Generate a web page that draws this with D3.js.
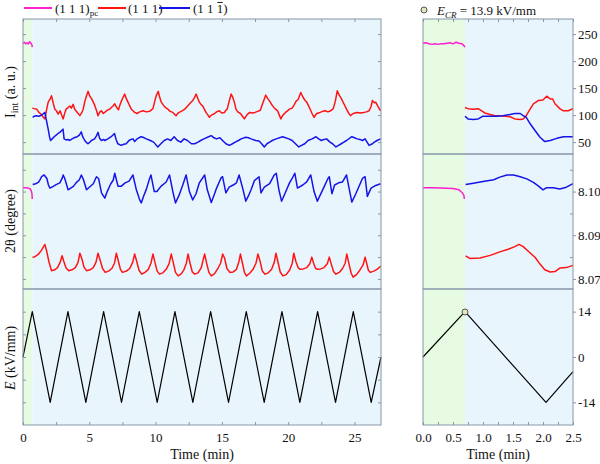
<!DOCTYPE html>
<html><head><meta charset="utf-8">
<script src="https://cdn.jsdelivr.net/npm/d3@7"></script>
<style>
body{margin:0;background:#fff}
svg{display:block}
svg text{font-family:"Liberation Serif","Tinos","Times New Roman","Nimbus Roman","DejaVu Serif",serif;fill:#111}
</style>
</head><body><svg id="c" width="600" height="464"></svg>
<script>
// ---------------- data ----------------
const legendLabels = ["(1 1 1)", "(1 1 1)", "(1 1 1)"];
const ecrLabel = "13.9 kV/mm";
const ecrValue = 13.9, ecrTime = 0.7;
const leftTimeTicks = [0, 5, 10, 15, 20, 25];
const leftTimeMinor = [2.5, 7.5, 12.5, 17.5, 22.5];
const rightTimeTicks = [0.0, 0.5, 1.0, 1.5, 2.0, 2.5];
const rightTimeMinor = [0.25, 0.75, 1.25, 1.75, 2.25];
const intTicks = [250, 200, 150, 100, 50];
const thetaTicks = [8.10, 8.09, 8.08];
const thetaTickLabels = ["8.10", "8.09", "8.07"];
const thetaMinor = [8.105, 8.095, 8.085];
const eTicks = [14, 0, -14];
const eMinor = [7, -7];
const pcEnd = 0.7; // end of pseudo-cubic (green) region, min

// Intensity, left (0-27 min)
const intPcLeft = [[0,233],[0.1,235],[0.2,232],[0.3,234],[0.4,232],[0.5,236],[0.6,233],[0.66,231],[0.7,226]];
const int111Left = [[0.7,113],[0.85,112],[1.03,111],[1.2,105],[1.35,102],[1.5,97],[1.65,93],[1.78,110],[1.9,124],[2.05,130],[2.15,136],[2.28,122],[2.4,111],[2.52,108],[2.65,102],[2.8,108],[2.9,101],[3.03,93],[3.15,104],[3.25,111],[3.4,114],[3.53,117],[3.65,113],[3.78,120],[3.9,111],[4.1,105],[4.29,99],[4.42,104],[4.54,111],[4.66,125],[4.79,136],[4.91,144],[5.04,135],[5.16,131],[5.3,124],[5.41,118],[5.55,108],[5.66,99],[5.8,106],[5.91,108],[6.05,103],[6.16,105],[6.35,109],[6.54,111],[6.66,114],[6.79,117],[6.92,121],[7.04,115],[7.2,110],[7.3,118],[7.42,126],[7.55,133],[7.67,139],[7.8,130],[7.92,124],[8.05,117],[8.17,111],[8.3,108],[8.42,105],[8.6,103],[8.8,106],[9.05,108],[9.3,106],[9.55,107],[9.8,112],[9.92,124],[10.05,136],[10.2,144],[10.32,132],[10.43,124],[10.6,118],[10.75,114],[10.93,111],[11.1,107],[11.3,105],[11.45,101],[11.55,99],[11.7,104],[11.85,106],[12.0,108],[12.2,111],[12.45,118],[12.6,122],[12.8,127],[12.94,133],[13.06,139],[13.2,130],[13.3,124],[13.45,119],[13.55,117],[13.8,105],[13.95,100],[14.06,96],[14.2,100],[14.4,102],[14.6,106],[14.8,108],[15.0,104],[15.2,105],[15.3,109],[15.4,111],[15.55,126],[15.7,139],[15.82,133],[15.94,124],[16.06,111],[16.2,106],[16.4,103],[16.55,98],[16.7,93],[16.9,101],[17.1,105],[17.3,104],[17.5,105],[17.7,107],[17.9,109],[18.07,121],[18.2,130],[18.3,137],[18.45,131],[18.6,126],[18.8,118],[19.0,112],[19.2,108],[19.33,100],[19.45,93],[19.6,100],[19.8,105],[19.95,108],[20.1,111],[20.3,113],[20.45,119],[20.6,126],[20.75,129],[20.95,142],[21.1,134],[21.25,128],[21.4,124],[21.6,114],[21.8,103],[21.95,96],[22.15,103],[22.4,105],[22.6,107],[22.8,108],[23.0,106],[23.2,108],[23.4,112],[23.55,125],[23.7,145],[23.85,137],[24.0,131],[24.2,121],[24.4,111],[24.55,104],[24.7,99],[24.9,103],[25.2,105],[25.45,104],[25.7,105],[25.9,106],[26.1,108],[26.25,116],[26.35,127],[26.5,123],[26.6,124],[26.8,115],[26.97,108]];
const int11bLeft = [[0.73,96],[0.85,98],[1.0,99],[1.2,98],[1.4,100],[1.55,103],[1.65,105],[1.75,92],[1.9,74],[2.0,60],[2.08,53],[2.2,56],[2.35,60],[2.5,63],[2.65,66],[2.78,68],[2.9,71],[3.02,74],[3.1,56],[3.25,54],[3.4,55],[3.53,53],[3.7,56],[3.85,58],[4.09,60],[4.25,63],[4.4,69],[4.5,60],[4.66,53],[4.8,49],[4.9,47],[5.05,50],[5.16,53],[5.4,56],[5.55,62],[5.66,68],[5.78,57],[5.91,53],[6.1,55],[6.16,53],[6.4,56],[6.65,60],[6.9,66],[7.02,55],[7.15,47],[7.4,44],[7.6,46],[7.78,47],[8.0,53],[8.15,55],[8.3,56],[8.42,51],[8.6,56],[8.9,60],[9.05,59],[9.3,56],[9.6,53],[9.85,50],[10.17,41],[10.4,47],[10.65,53],[10.9,56],[11.15,53],[11.4,60],[11.65,53],[11.9,50],[12.15,56],[12.4,53],[12.7,47],[12.95,47],[13.2,50],[13.4,53],[13.65,56],[14.0,60],[14.2,62],[14.4,58],[14.6,56],[14.85,58],[15.05,53],[15.3,47],[15.56,44],[15.8,47],[16.0,50],[16.25,53],[16.45,56],[16.8,59],[17.0,58],[17.2,56],[17.55,53],[17.8,52],[18.0,47],[18.2,41],[18.4,47],[18.6,50],[18.8,53],[19.1,56],[19.57,60],[19.8,58],[20.05,56],[20.3,53],[20.55,47],[20.8,41],[21.0,44],[21.25,47],[21.5,53],[21.8,56],[22.1,60],[22.3,56],[22.5,53],[22.7,55],[22.9,56],[23.15,50],[23.35,47],[23.6,41],[23.8,44],[24.0,47],[24.2,50],[24.4,53],[24.8,60],[25.0,58],[25.2,56],[25.4,55],[25.6,53],[25.8,56],[26.1,44],[26.35,47],[26.5,50],[26.7,53],[26.97,56]];

// 2theta, left
const thetaPcLeft = [[0,8.1009],[0.2,8.1009],[0.4,8.1008],[0.55,8.1006],[0.62,8.1002],[0.67,8.0996],[0.7,8.0983]];
const theta11bLeft = [[0.73,8.1016],[0.95,8.1018],[1.16,8.1021],[1.3,8.1028],[1.4,8.1034],[1.6,8.1038],[1.8,8.1030],[1.92,8.1015],[2.03,8.1008],[2.28,8.1012],[2.5,8.1016],[2.78,8.1020],[2.95,8.1030],[3.03,8.1038],[3.15,8.1030],[3.4,8.1004],[3.6,8.1008],[3.8,8.1012],[4.0,8.1020],[4.25,8.1027],[4.4,8.1038],[4.55,8.1028],[4.79,8.1004],[5.0,8.1010],[5.3,8.1018],[5.54,8.1034],[5.7,8.1030],[5.92,8.0997],[6.17,8.0985],[6.35,8.1000],[6.62,8.1018],[6.8,8.1026],[6.92,8.1042],[7.17,8.1012],[7.4,8.1012],[7.7,8.1020],[8.0,8.1024],[8.29,8.1038],[8.55,8.1004],[8.8,8.0981],[8.92,8.0974],[9.1,8.0990],[9.3,8.1005],[9.55,8.1030],[9.65,8.1038],[9.9,8.1000],[10.1,8.1000],[10.4,8.1012],[10.8,8.1022],[11.05,8.1038],[11.3,8.1000],[11.5,8.0974],[11.75,8.0990],[12.05,8.1015],[12.3,8.1038],[12.55,8.1000],[12.8,8.0981],[13.05,8.0995],[13.3,8.1020],[13.7,8.1038],[13.9,8.1004],[14.2,8.0975],[14.45,8.0995],[14.6,8.1008],[14.8,8.1022],[14.95,8.1032],[15.05,8.1034],[15.3,8.0997],[15.55,8.1010],[15.85,8.1015],[16.1,8.1020],[16.3,8.1038],[16.6,8.1004],[16.8,8.0978],[17.0,8.0990],[17.2,8.1004],[17.45,8.1025],[17.8,8.1034],[17.95,8.0997],[18.2,8.1010],[18.6,8.1018],[18.95,8.1038],[19.1,8.1042],[19.3,8.1004],[19.5,8.0978],[19.75,8.0995],[20.1,8.1020],[20.3,8.1030],[20.5,8.1042],[20.7,8.1008],[21.1,8.1015],[21.4,8.1022],[21.7,8.1038],[21.95,8.1000],[22.2,8.0978],[22.6,8.1004],[23.0,8.1030],[23.1,8.1034],[23.3,8.0995],[23.5,8.1015],[23.8,8.1020],[24.1,8.1022],[24.4,8.1038],[24.55,8.1014],[24.8,8.0976],[25.1,8.0995],[25.6,8.1030],[25.8,8.1034],[25.97,8.0989],[26.25,8.1008],[26.6,8.1014],[26.97,8.1018]];
const theta111Left = [[0.72,8.0849],[0.9,8.0851],[1.15,8.0856],[1.4,8.0866],[1.55,8.0874],[1.65,8.0879],[1.8,8.0862],[1.95,8.0840],[2.15,8.0819],[2.4,8.0821],[2.6,8.0826],[2.8,8.0838],[2.95,8.0853],[3.1,8.0838],[3.25,8.0825],[3.45,8.0819],[3.7,8.0821],[3.95,8.0826],[4.15,8.0838],[4.29,8.0859],[4.45,8.0845],[4.6,8.0827],[4.8,8.0819],[5.05,8.0821],[5.3,8.0826],[5.5,8.0838],[5.66,8.0859],[5.82,8.0843],[6.0,8.0824],[6.2,8.0815],[6.45,8.0818],[6.7,8.0824],[6.9,8.0836],[7.04,8.0859],[7.2,8.0840],[7.35,8.0822],[7.5,8.0815],[7.8,8.0818],[8.05,8.0824],[8.27,8.0838],[8.42,8.0857],[8.58,8.0840],[8.75,8.0820],[8.95,8.0811],[9.2,8.0815],[9.45,8.0822],[9.65,8.0836],[9.8,8.0857],[9.95,8.0838],[10.12,8.0818],[10.3,8.0811],[10.55,8.0814],[10.8,8.0822],[11.02,8.0835],[11.18,8.0857],[11.33,8.0838],[11.5,8.0815],[11.7,8.0807],[11.95,8.0812],[12.15,8.0822],[12.32,8.0836],[12.45,8.0857],[12.6,8.0836],[12.77,8.0816],[12.95,8.0811],[13.2,8.0814],[13.45,8.0826],[13.58,8.0843],[13.7,8.0857],[13.85,8.0836],[14.02,8.0815],[14.2,8.0807],[14.45,8.0812],[14.7,8.0824],[14.9,8.0836],[15.06,8.0857],[15.2,8.0848],[15.38,8.0824],[15.6,8.0815],[15.85,8.0816],[16.1,8.0822],[16.27,8.0838],[16.4,8.0857],[16.55,8.0836],[16.7,8.0815],[16.85,8.0807],[17.1,8.0813],[17.35,8.0822],[17.57,8.0836],[17.72,8.0857],[17.87,8.0842],[18.05,8.0818],[18.25,8.0811],[18.5,8.0814],[18.75,8.0822],[18.95,8.0838],[19.08,8.0859],[19.22,8.0840],[19.4,8.0816],[19.6,8.0807],[19.85,8.0810],[20.1,8.0820],[20.3,8.0835],[20.42,8.0859],[20.58,8.0840],[20.75,8.0826],[20.9,8.0822],[21.15,8.0823],[21.4,8.0826],[21.62,8.0834],[21.78,8.0850],[21.92,8.0836],[22.05,8.0825],[22.2,8.0822],[22.45,8.0823],[22.7,8.0826],[22.95,8.0835],[23.1,8.0850],[23.25,8.0834],[23.42,8.0817],[23.6,8.0811],[23.85,8.0815],[24.1,8.0824],[24.3,8.0836],[24.42,8.0857],[24.58,8.0835],[24.75,8.0813],[24.9,8.0804],[25.15,8.0810],[25.4,8.0820],[25.65,8.0832],[25.8,8.0850],[25.95,8.0832],[26.05,8.0820],[26.2,8.0815],[26.45,8.0818],[26.7,8.0822],[26.97,8.0829]];

// Electric field, left (vertices)
const eTimesLeft = [0, 0.7, 2.05, 3.39, 4.74, 6.08, 7.43, 8.77, 10.12, 11.46, 12.81, 14.15, 15.5, 16.84, 18.19, 19.53, 20.88, 22.22, 23.57, 24.91, 26.26, 27];
const eValsLeft  = [0, 14, -14, 14, -14, 14, -14, 14, -14, 14, -14, 14, -14, 14, -14, 14, -14, 14, -14, 14, -14, 0];

// Right panel (0-2.5 min)
const intPcRight = [[0,233],[0.05,234],[0.1,232],[0.15,231],[0.2,232],[0.25,231],[0.3,232],[0.35,232],[0.4,233],[0.45,234],[0.5,232],[0.55,235],[0.6,233],[0.65,232],[0.68,229],[0.7,226]];
const int111Right = [[0.7,114],[0.75,112],[0.84,111],[0.92,112],[0.98,108],[1.03,104],[1.12,101],[1.2,99],[1.28,99],[1.37,98],[1.45,97],[1.53,93],[1.62,92],[1.67,93],[1.72,99],[1.78,110],[1.84,121],[1.92,127],[2.0,128],[2.06,135],[2.12,130],[2.16,130],[2.2,121],[2.28,112],[2.34,108],[2.42,108],[2.5,112]];
const int11bRight = [[0.7,98],[0.75,93],[0.84,92],[0.92,93],[1.0,98],[1.1,98],[1.22,98],[1.33,99],[1.45,101],[1.53,103],[1.62,103],[1.67,99],[1.72,96],[1.78,85],[1.87,71],[1.95,59],[2.03,51],[2.12,53],[2.23,57],[2.34,60],[2.42,60],[2.5,60]];
const thetaPcRight = [[0,8.1009],[0.15,8.1009],[0.3,8.1008],[0.5,8.1007],[0.6,8.1004],[0.65,8.0998],[0.68,8.0992],[0.69,8.0983]];
const theta11bRight = [[0.71,8.1016],[0.84,8.1019],[1.0,8.1023],[1.18,8.1027],[1.28,8.1033],[1.4,8.1038],[1.51,8.1038],[1.62,8.1034],[1.73,8.1029],[1.84,8.1021],[1.92,8.1013],[2.0,8.1004],[2.06,8.1009],[2.17,8.1009],[2.28,8.1006],[2.39,8.1010],[2.5,8.1018]];
const theta111Right = [[0.71,8.0853],[0.78,8.0847],[0.95,8.0848],[1.12,8.0854],[1.28,8.0862],[1.42,8.0868],[1.53,8.0874],[1.6,8.0879],[1.67,8.0874],[1.75,8.0864],[1.87,8.0849],[1.95,8.0834],[2.03,8.0821],[2.12,8.0816],[2.2,8.0817],[2.28,8.0825],[2.39,8.0826],[2.5,8.0831]];
const eTimesRight = [0, 0.7, 2.05, 2.5];
const eValsRight  = [0, 14, -14, -4.5];

// ---------------- drawing ----------------
const C = {pc:"#ff1fd0", r:"#ff1414", b:"#1414e6", k:"#000", frame:"#8696aa", green:"#e6fbe2", blue:"#e9f5fd"};
const svg = d3.select("#c");
const xL = d3.scaleLinear().domain([0,27]).range([23,381]);
const xR = d3.scaleLinear().domain([0,2.5]).range([423,573]);
const yI = d3.scaleLinear().domain([28,278]).range([154,19]);
const yT = d3.scaleLinear().domain([8.0777,8.1086]).range([289,154]);
const yE = d3.scaleLinear().domain([-21,21]).range([425,289]);
const TOP = 19, BOT = 425;

function bg(x){
  svg.append("rect").attr("x",x(0)).attr("y",TOP).attr("width",x(pcEnd)-x(0)).attr("height",BOT-TOP).attr("fill",C.green);
  svg.append("rect").attr("x",x(pcEnd)).attr("y",TOP).attr("width",x.range()[1]-x(pcEnd)).attr("height",BOT-TOP).attr("fill",C.blue);
}
bg(xL); bg(xR);

function line(x,y,data,color,w){
  svg.append("path").datum(data).attr("fill","none").attr("stroke",color).attr("stroke-width",w||1.5)
    .attr("stroke-linejoin","round").attr("d",d3.line().x(d=>x(d[0])).y(d=>y(d[1])));
}
const zip = (a,b)=>a.map((t,i)=>[t,b[i]]);

// left
line(xL,yI,intPcLeft,C.pc); line(xL,yI,int111Left,C.r); line(xL,yI,int11bLeft,C.b);
line(xL,yT,thetaPcLeft,C.pc); line(xL,yT,theta11bLeft,C.b); line(xL,yT,theta111Left,C.r);
line(xL,yE,zip(eTimesLeft,eValsLeft),C.k,1.2);
// right
line(xR,yI,intPcRight,C.pc); line(xR,yI,int111Right,C.r); line(xR,yI,int11bRight,C.b);
line(xR,yT,thetaPcRight,C.pc); line(xR,yT,theta11bRight,C.b); line(xR,yT,theta111Right,C.r);
line(xR,yE,zip(eTimesRight,eValsRight),C.k,1.2);
svg.append("circle").attr("cx",xR(ecrTime)).attr("cy",yE(ecrValue)).attr("r",3)
  .attr("fill","#e2e6b8").attr("stroke","#555").attr("stroke-width",1);

// frames
function frame(x){
  const [a,b] = x.range();
  [[TOP,154],[154,289],[289,BOT]].forEach(([y0,y1])=>{
    svg.append("rect").attr("x",a).attr("y",y0).attr("width",b-a).attr("height",y1-y0)
      .attr("fill","none").attr("stroke",C.frame).attr("stroke-width",1);
  });
}
frame(xL); frame(xR);

function styleAxis(g){
  g.select(".domain").remove();
  g.attr("font-family",null).attr("font-size",null);
  g.selectAll(".tick line").attr("stroke",C.frame);
  g.selectAll(".tick text").style("font-size","13px").attr("fill","#111");
}
// x axes
function xAxes(x, major, minor, fmt){
  const all = major.concat(minor);
  const gb = svg.append("g").attr("transform",`translate(0,${BOT})`)
    .call(d3.axisBottom(x).tickValues(all).tickSize(-3).tickPadding(8).tickFormat(d=>major.includes(d)?fmt(d):""));
  styleAxis(gb);
  const gt = svg.append("g").attr("transform",`translate(0,${TOP})`)
    .call(d3.axisTop(x).tickValues(all).tickSize(-3).tickFormat(""));
  styleAxis(gt);
}
xAxes(xL, leftTimeTicks, leftTimeMinor, d3.format("d"));
xAxes(xR, rightTimeTicks, rightTimeMinor, d3.format(".1f"));

// y ticks on left panel (inward, both sides)
[[yI,intTicks],[yT,thetaTicks.concat(thetaMinor)],[yE,eTicks.concat(eMinor)]].forEach(([y,t])=>{
  styleAxis(svg.append("g").attr("transform",`translate(${xL.range()[0]},0)`).call(d3.axisLeft(y).tickValues(t).tickSize(-3).tickFormat("")));
  styleAxis(svg.append("g").attr("transform",`translate(${xL.range()[1]},0)`).call(d3.axisRight(y).tickValues(t).tickSize(-3).tickFormat("")));
});
// right panel right axis with labels
const xr1 = xR.range()[1];
styleAxis(svg.append("g").attr("transform",`translate(${xr1},0)`).call(d3.axisRight(yI).tickValues(intTicks).tickSize(3).tickPadding(2)));
styleAxis(svg.append("g").attr("transform",`translate(${xr1},0)`).call(d3.axisRight(yT).tickValues(thetaTicks).tickSize(3).tickPadding(2).tickFormat((d,i)=>thetaTickLabels[i])));
styleAxis(svg.append("g").attr("transform",`translate(${xr1},0)`).call(d3.axisRight(yE).tickValues(eTicks).tickSize(3).tickPadding(2).tickFormat(d=>d)));
styleAxis(svg.append("g").attr("transform",`translate(${xr1},0)`).call(d3.axisRight(yT).tickValues(thetaMinor).tickSize(-3).tickFormat("")));

// axis titles
function ytitle(cy, build){
  const t = svg.append("text").attr("transform",`translate(15,${cy}) rotate(-90)`)
    .attr("text-anchor","middle").style("font-size","14px");
  build(t);
}
ytitle(92, t=>{ t.append("tspan").text("I"); t.append("tspan").style("font-size","10px").attr("dy",3).text("int");
  t.append("tspan").attr("dy",-3).text(" (a. u.)"); });
ytitle(221, t=>{ t.text("2θ (degree)"); });
ytitle(358, t=>{ t.append("tspan").attr("font-style","italic").text("E"); t.append("tspan").text(" (kV/mm)"); });

svg.append("text").attr("x",202).attr("y",459).attr("text-anchor","middle").style("font-size","14px").text("Time (min)");
svg.append("text").attr("x",498).attr("y",459).attr("text-anchor","middle").style("font-size","14px").text("Time (min)");

// legend
const legendColors = [C.pc, C.r, C.b];
const legendX = [[24,52,55],[98,126,128],[159,190,193]];
legendX.forEach(([a,b,tx],i)=>{
  svg.append("line").attr("x1",a).attr("x2",b).attr("y1",8).attr("y2",8).attr("stroke",legendColors[i]).attr("stroke-width",2);
  const t = svg.append("text").attr("x",tx).attr("y",13).style("font-size","13px");
  t.append("tspan").text(legendLabels[i]);
  if(i===0){ t.append("tspan").style("font-size","9px").attr("dy",3).text("pc"); }
  if(i===2){
    const ext = t.node().getExtentOfChar(5);
    svg.append("line").attr("x1",ext.x+0.5).attr("x2",ext.x+ext.width-0.5).attr("y1",ext.y+1.5).attr("y2",ext.y+1.5)
      .attr("stroke","#111").attr("stroke-width",0.9);
  }
});
svg.append("circle").attr("cx",424).attr("cy",10).attr("r",3).attr("fill","#e2e6b8").attr("stroke","#555");
const et = svg.append("text").attr("x",437).attr("y",15).style("font-size","13px");
et.append("tspan").attr("font-style","italic").text("E");
et.append("tspan").attr("font-style","italic").style("font-size","9px").attr("dy",3).text("CR");
et.append("tspan").attr("dy",-3).text(" = " + ecrLabel);
</script></body></html>
